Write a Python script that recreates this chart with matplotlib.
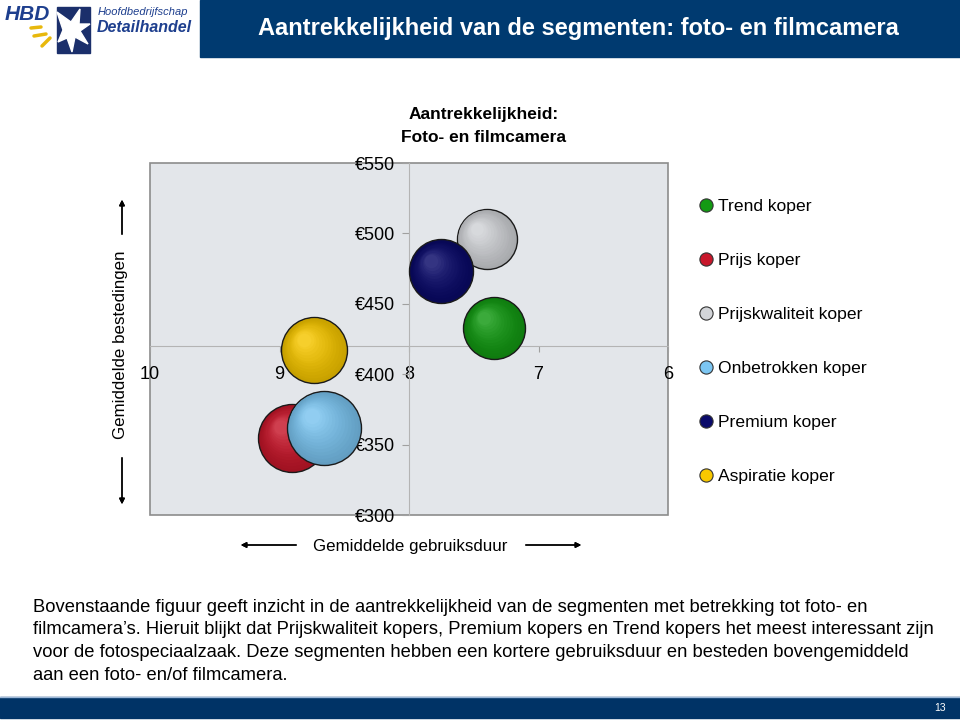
import numpy as np
import matplotlib
matplotlib.use("Agg")
import matplotlib.pyplot as plt
from matplotlib.patches import Rectangle, Polygon
from matplotlib.lines import Line2D
from matplotlib.transforms import offset_copy
from matplotlib.colors import to_rgb

plt.rcParams['font.family'] = ['Liberation Sans', 'DejaVu Sans']

# segment data
segmenten = ['Trend koper', 'Prijs koper', 'Prijskwaliteit koper',
             'Onbetrokken koper', 'Premium koper', 'Aspiratie koper']
gebruiksduur = [7.34, 8.90, 7.40, 8.66, 7.75, 8.73]
bestedingen = [433, 355, 496, 362, 473, 417]
omvang = [31, 34, 30, 37, 32, 33]
kleuren = ['#139A13', '#C8172B', '#D2D4D8', '#7CC6F2', '#0A0A6A', '#F8C800']

y_ticks = [300, 350, 400, 450, 500, 550]
x_ticks = [10, 9, 8, 7, 6]

W, H = 960, 720
fig = plt.figure(figsize=(9.6, 7.2), dpi=100)


def fx(x):
    return x / W


def fy(y):
    return 1 - y / H


def mix(c, other, t):
    c = np.array(to_rgb(c))
    o = np.array(to_rgb(other))
    return tuple(c * (1 - t) + o * t)


# ---- header ----
fig.patches.append(Rectangle((fx(200), fy(57)), fx(760), 57 / H,
                             transform=fig.transFigure, color='#003A70'))
fig.text(fx(578), fy(29), 'Aantrekkelijkheid van de segmenten: foto- en filmcamera',
         color='white', fontsize=17, fontweight='bold', ha='center', va='center')

# logo
fig.text(fx(5), fy(15), 'HBD', color='#1E3F8E', fontsize=15, fontweight='bold',
         style='italic', ha='left', va='center')
fig.patches.append(Rectangle((fx(57), fy(53)), fx(33), 46 / H,
                             transform=fig.transFigure, color='#1B2F6B'))
star = [(57, 12), (71, 22), (80, 9), (79, 24), (90, 24), (80, 31), (88, 44),
        (75, 37), (72, 52), (67, 38), (58, 42), (63, 30)]
fig.patches.append(Polygon([(fx(a), fy(b)) for a, b in star], closed=True,
                           transform=fig.transFigure, color='white'))
for (x0, y0, x1, y1) in [(31, 28, 41, 27), (34, 36, 46, 34), (42, 46, 50, 38)]:
    fig.add_artist(Line2D([fx(x0), fx(x1)], [fy(y0), fy(y1)], transform=fig.transFigure,
                          color='#E8B80C', lw=2.5, solid_capstyle='round'))
fig.text(fx(98), fy(12), 'Hoofdbedrijfschap', color='#1E3F8E', fontsize=8,
         style='italic', ha='left', va='center')
fig.text(fx(97), fy(28), 'Detailhandel', color='#1E3F8E', fontsize=11.5,
         fontweight='bold', style='italic', ha='left', va='center')

# ---- chart ----
ax = fig.add_axes([fx(150), fy(515), 518 / W, 352 / H])
ax.set_facecolor('#E3E6EA')
ax.patch.set_edgecolor('#8C8C8C')
ax.patch.set_linewidth(1.2)
ax.set_xlim(10, 6)
ax.set_ylim(300, 550)
for s in ['top', 'right']:
    ax.spines[s].set_visible(False)
ax.spines['left'].set_position(('data', 8))
ax.spines['bottom'].set_position(('data', 420))
ax.spines['left'].set_color('#B4B4B4')
ax.spines['bottom'].set_color('#B4B4B4')
ax.set_yticks(y_ticks)
ax.set_yticklabels(['€%d' % v for v in y_ticks])
ax.set_xticks(x_ticks)
ax.set_xticklabels([str(v) for v in x_ticks])
ax.tick_params(axis='y', direction='out', length=5, color='#A0A0A0',
               labelsize=13, pad=5)
ax.tick_params(axis='x', direction='out', length=4, color='#A0A0A0',
               labelsize=13, pad=10.5)

# bubbles with a simple sphere shading
n_layers = 14
for i in range(len(segmenten)):
    r_pt = omvang[i] * 0.72
    base = kleuren[i]
    ax.scatter(gebruiksduur[i], bestedingen[i], s=(2 * r_pt) ** 2,
               color=mix(base, 'black', 0.2), edgecolor='#1A1A1A',
               linewidth=1.0, zorder=3 + i)
    for k in range(1, n_layers):
        t = k / n_layers
        size = (2 * r_pt * (1 - 0.85 * t)) ** 2
        off = offset_copy(ax.transData, fig=fig, x=-r_pt * 0.35 * t,
                          y=r_pt * 0.35 * t, units='points')
        col = mix(mix(base, 'black', 0.2 * (1 - t)), 'white', 0.2 * t ** 2)
        ax.scatter(gebruiksduur[i], bestedingen[i], s=size, color=col,
                   linewidth=0, transform=off, zorder=3 + i)

# chart title
fig.text(fx(484), fy(115), 'Aantrekkelijkheid:', fontsize=12.5, fontweight='bold',
         ha='center', va='center')
fig.text(fx(483), fy(138), 'Foto- en filmcamera', fontsize=12.5, fontweight='bold',
         ha='center', va='center')

# axis titles with arrows
fig.text(fx(120), fy(345), 'Gemiddelde bestedingen', fontsize=12.2, rotation=90,
         ha='center', va='center')
fig.text(fx(410), fy(546), 'Gemiddelde gebruiksduur', fontsize=12.2,
         ha='center', va='center')
arrow = dict(arrowstyle='-|>', color='black', lw=1, mutation_scale=8)
for (x0, y0, x1, y1) in [(122, 237, 122, 197), (122, 455, 122, 507),
                         (299, 545, 238, 545), (523, 545, 584, 545)]:
    fig.add_artist(plt.annotate('', xy=(fx(x1), fy(y1)), xytext=(fx(x0), fy(y0)),
                                xycoords='figure fraction', textcoords='figure fraction',
                                arrowprops=arrow))

# legend
handles = [Line2D([], [], marker='o', linestyle='none', markersize=9.5,
                  markerfacecolor=c, markeredgecolor='#333333', markeredgewidth=0.8)
           for c in kleuren]
fig.legend(handles, segmenten, loc='upper left', bbox_to_anchor=(fx(689), fy(192)),
           frameon=False, fontsize=12.6, labelspacing=2.21, handletextpad=0.15,
           handlelength=1.1, borderaxespad=0)

# ---- paragraph ----
regels = [
    'Bovenstaande figuur geeft inzicht in de aantrekkelijkheid van de segmenten met betrekking tot foto- en',
    'filmcamera’s. Hieruit blijkt dat Prijskwaliteit kopers, Premium kopers en Trend kopers het meest interessant zijn',
    'voor de fotospeciaalzaak. Deze segmenten hebben een kortere gebruiksduur en besteden bovengemiddeld',
    'aan een foto- en/of filmcamera.',
]
for j, r in enumerate(regels):
    fig.text(fx(33), fy(607 + 22.7 * j), r, fontsize=13.2, ha='left', va='center')

# ---- footer ----
fig.patches.append(Rectangle((0, fy(718)), 1, 21 / H, transform=fig.transFigure,
                             color='#003366'))
fig.add_artist(Line2D([0, 1], [fy(697), fy(697)], transform=fig.transFigure,
                      color='#9DB8D8', lw=1))
fig.text(fx(940), fy(708), '13', color='white', fontsize=7.5, ha='center', va='center')

fig.savefig('out.png', dpi=100)
